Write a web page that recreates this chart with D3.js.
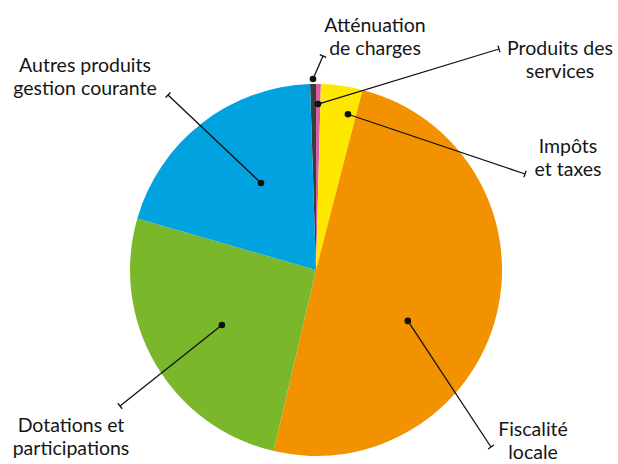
<!DOCTYPE html>
<html><head><meta charset="utf-8">
<script src="https://cdn.jsdelivr.net/npm/d3@7"></script>
<style>body{margin:0;background:#fff}svg{display:block}</style>
</head><body>
<script>
const categories = ["Atténuation de charges","Produits des services","Impôts et taxes","Fiscalité locale","Dotations et participations","Autres produits gestion courante"];
const values = [0.51, 0.42, 3.6, 49.6, 25.8, 20.0];
const colors = ["#3c3c3b","#d660a8","#ffe800","#f39200","#7ab72b","#00a3df"];
const labelLines = [["Atténuation","de charges"],["Produits des","services"],["Impôts","et taxes"],["Fiscalité","locale"],["Dotations et","participations"],["Autres produits","gestion courante"]];
// annotation layout: dot (polar deg, radius), leader end, text anchor
const layout = [
  {a:-0.9, r:191, ex:323, ey:56, tx:375, ty:32},
  {a:0.7, r:166, ex:499, ey:49, tx:560, ty:55},
  {a:11.6, r:159, ex:525, ey:174, tx:568, ty:153},
  {a:119, r:105, ex:491, ey:447, tx:533, ty:436},
  {a:239.7, r:109, ex:120, ey:406, tx:71, ty:432},
  {a:327.7, r:103, ex:168, ey:95, tx:85, ty:72}
];
const W=618,H=464, cx=316, cy=270, R=186;
const svg=d3.select("body").append("svg").attr("width",W).attr("height",H);
const total=d3.sum(values);
const start=-2*Math.PI*values[0]/total;
const pie=d3.pie().sort(null).startAngle(start).endAngle(start+2*Math.PI);
const arc=d3.arc().innerRadius(0).outerRadius(R);
const g=svg.append("g").attr("transform",`translate(${cx},${cy})`);
g.selectAll("path").data(pie(values)).join("path").attr("d",arc).attr("fill",(d,i)=>colors[i]);
const ann=svg.append("g");
layout.forEach((L,i)=>{
  const t=L.a*Math.PI/180;
  const x=cx+L.r*Math.sin(t), y=cy-L.r*Math.cos(t);
  ann.append("line").attr("x1",x).attr("y1",y).attr("x2",L.ex).attr("y2",L.ey).attr("stroke","#111").attr("stroke-width",1.3);
  const dx=L.ex-x, dy=L.ey-y, len=Math.hypot(dx,dy), px=-dy/len*3.5, py=dx/len*3.5;
  ann.append("line").attr("x1",L.ex-px).attr("y1",L.ey-py).attr("x2",L.ex+px).attr("y2",L.ey+py).attr("stroke","#111").attr("stroke-width",1.3);
  ann.append("circle").attr("cx",x).attr("cy",y).attr("r",3.3).attr("fill","#111");
  const tx=ann.append("text").attr("x",L.tx).attr("y",L.ty).attr("text-anchor","middle")
    .attr("font-family","Lato, sans-serif").attr("font-size",19.5).attr("fill","#161616");
  labelLines[i].forEach((s,j)=>tx.append("tspan").attr("x",L.tx).attr("dy",j?23:0).text(s));
});
</script>
</body></html>
